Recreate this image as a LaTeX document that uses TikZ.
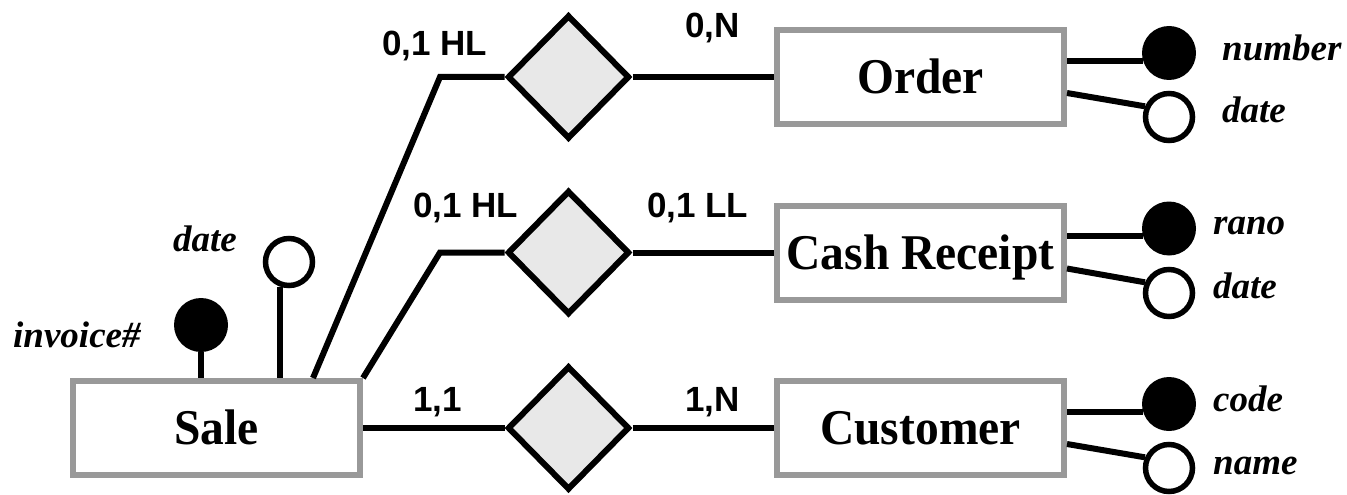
\documentclass[tikz,border=0pt]{standalone}
\usepackage{fontspec}
\usepackage{graphicx}
\setmainfont{Liberation Serif}
\newfontfamily\cardfont{Liberation Sans}
\usetikzlibrary{shapes.geometric,calc}
\definecolor{boxgray}{HTML}{999999}
\definecolor{relfill}{HTML}{E8E8E8}
\newcommand\ename[1]{\scalebox{0.95}[1]{#1}}
\begin{document}
\begin{tikzpicture}[x=1pt,y=-1pt,
 entity/.style={draw=boxgray, line width=6pt, fill=white, minimum width=287pt, minimum height=94pt, inner sep=0pt, text height=33pt, text depth=0pt, font=\fontsize{50}{50}\selectfont\bfseries},
 rel/.style={diamond, draw=black, fill=relfill, line width=6pt, minimum width=122pt, minimum height=124pt, inner sep=0pt},
 keyattr/.style={circle, fill=black, minimum size=54pt, inner sep=0pt},
 optattr/.style={circle, draw=black, fill=white, line width=5.5pt, minimum size=47pt, inner sep=0pt},
 conn/.style={line width=6pt},
 card/.style={font=\cardfont\bfseries\fontsize{35}{35}\selectfont, inner sep=0pt, anchor=base west},
 aname/.style={font=\bfseries\itshape\fontsize{37}{37}\selectfont, inner sep=0pt, anchor=base west}
]
\useasboundingbox (0,0) rectangle (1347,495);

% entities
\node[entity] (sale)  at (216.5,428)   {\ename{Sale}};
\node[entity] (order) at (920.5,77)    {\ename{Order}};
\node[entity] (cash)  at (920.5,252.5) {\ename{Cash Receipt}};
\node[entity] (cust)  at (920.5,428)   {\ename{Customer}};

% relationships
\node[rel] (rO) at (568.5,77) {};
\node[rel] (rC) at (568.5,252.5) {};
\node[rel] (rU) at (568.5,428) {};

% connectors
\coordinate (s1) at ($(sale.north west)+(243,0)$);
\coordinate (k1) at (440,77);
\coordinate (k2) at (440,252.5);
\draw[conn] (s1) -- (k1) -- (rO.west);
\draw[conn] (sale.north east) -- (k2) -- (rC.west);
\draw[conn] (rO.east) -- (order.west);
\draw[conn] (rC.east) -- (cash.west);
\draw[conn] (sale.east) -- (rU.west);
\draw[conn] (rU.east) -- (cust.west);

% cardinalities
\node[card] (l1) at (382,56)  {0,1 HL};
\node[card] (l2) at (685,38)  {0,N};
\node[card] (l3) at (413,217) {0,1 HL};
\node[card] (l4) at (647,217) {0,1 LL};
\node[card] (l5) at (413,411) {1,1};
\node[card] (l6) at (685,411) {1,N};

% Sale attributes
\node[keyattr] (invS)  at (201,325) {};
\node[optattr] (dateS) at (289,262) {};
\draw[conn] (invS.south) -- (invS.south |- sale.north);
\draw[conn] (dateS.-110) -- (dateS.-110 |- sale.north);
\node[aname] (invSl)  at (13,347)  {invoice\#};
\node[aname] (dateSl) at (173,251) {date};

% Order attributes
\node[keyattr] (keyO) at (1169,53) {};
\node[optattr] (optO) at (1169,117) {};
\draw[conn] (keyO.197) -- (keyO.197 -| order.east);
\draw[conn] ($(order.east)+(0,16)$) -- (optO.156);
\node[aname] (keyOl) at (1222,60)  {number};
\node[aname] (optOl) at (1222,122) {date};

% Cash Receipt attributes
\node[keyattr] (keyC) at (1169,228.5) {};
\node[optattr] (optC) at (1169,293) {};
\draw[conn] (keyC.197) -- (keyC.197 -| cash.east);
\draw[conn] ($(cash.east)+(0,16)$) -- (optC.156);
\node[aname] (keyCl) at (1213,234) {rano};
\node[aname] (optCl) at (1213,298) {date};

% Customer attributes
\node[keyattr] (keyU) at (1169,404) {};
\node[optattr] (optU) at (1169,468) {};
\draw[conn] (keyU.197) -- (keyU.197 -| cust.east);
\draw[conn] ($(cust.east)+(0,16)$) -- (optU.156);
\node[aname] (keyUl) at (1213,411) {code};
\node[aname] (optUl) at (1213,474) {name};
\end{tikzpicture}
\end{document}
